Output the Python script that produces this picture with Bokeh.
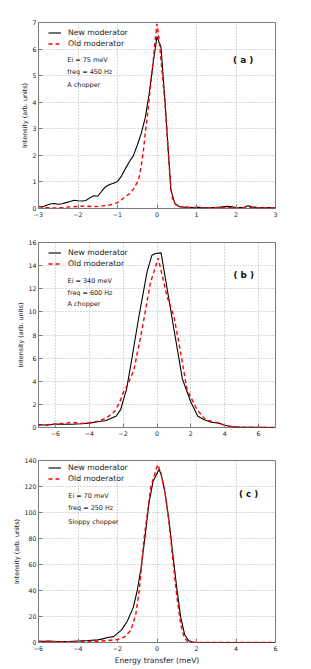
from bokeh.plotting import figure
from bokeh.models import Range1d, FixedTicker, Label
from bokeh.layouts import column
from bokeh.embed import file_html
from bokeh.resources import INLINE

# ---------------- data ----------------
# Panel (a): Ei = 75 meV
A_NEW_X = [-3.0, -2.9, -2.8, -2.7, -2.6, -2.5, -2.4, -2.3, -2.2, -2.1, -2.0, -1.9, -1.8, -1.7, -1.6, -1.5,
           -1.4, -1.3, -1.2, -1.1, -1.0, -0.9, -0.8, -0.7, -0.6, -0.5, -0.4, -0.3, -0.2, -0.1, 0.0, 0.1,
           0.2, 0.3, 0.35, 0.45, 0.55, 0.7, 0.9, 1.0, 1.2, 1.4, 1.6, 1.8, 1.9, 2.0, 2.2, 2.3, 2.4, 2.6, 2.8, 3.0]
A_NEW_Y = [0.08, 0.06, 0.12, 0.17, 0.19, 0.16, 0.18, 0.22, 0.26, 0.31, 0.29, 0.28, 0.30, 0.40, 0.48, 0.46,
           0.65, 0.82, 0.90, 0.95, 1.02, 1.22, 1.50, 1.76, 1.98, 2.38, 2.82, 3.40, 4.30, 5.45, 6.47, 6.08,
           4.10, 1.85, 0.70, 0.20, 0.08, 0.05, 0.04, 0.05, 0.03, 0.04, 0.05, 0.08, 0.06, 0.04, 0.04, 0.10,
           0.06, 0.03, 0.04, 0.03]
A_OLD_X = [-3.0, -2.8, -2.6, -2.4, -2.2, -2.0, -1.8, -1.6, -1.4, -1.2, -1.0, -0.9, -0.8, -0.7, -0.6, -0.5,
           -0.45, -0.4, -0.35, -0.3, -0.25, -0.2, -0.15, -0.1, -0.05, 0.0, 0.05, 0.1, 0.2, 0.3, 0.35, 0.4,
           0.5, 0.6, 0.8, 1.0, 1.5, 2.0, 2.5, 3.0]
A_OLD_Y = [0.07, 0.04, 0.02, 0.03, 0.06, 0.08, 0.09, 0.07, 0.09, 0.13, 0.22, 0.32, 0.45, 0.55, 0.72, 0.98,
           1.20, 1.60, 2.10, 2.80, 3.40, 4.10, 4.80, 5.50, 6.30, 6.95, 6.40, 5.60, 4.00, 1.80, 0.80, 0.30,
           0.10, 0.06, 0.04, 0.03, 0.03, 0.03, 0.03, 0.03]

# Panel (b): Ei = 340 meV
B_NEW_X = [-7.0, -6.5, -6.0, -5.5, -5.0, -4.5, -4.0, -3.5, -3.0, -2.7, -2.4, -2.15, -2.0, -1.8, -1.56,
           -1.07, -0.58, -0.3, -0.1, 0.24, 0.6, 1.0, 1.5, 2.0, 2.4, 2.75, 3.2, 3.6, 4.0, 4.5, 5.0, 6.0, 7.0]
B_NEW_Y = [0.26, 0.20, 0.30, 0.28, 0.28, 0.32, 0.38, 0.50, 0.60, 0.80, 1.00, 1.55, 2.30, 3.30, 5.30,
           9.60, 13.5, 14.9, 15.05, 15.1, 12.0, 8.50, 4.20, 2.20, 1.00, 0.70, 0.45, 0.40, 0.20, 0.05, 0.02,
           0.01, 0.0]
B_OLD_X = [-7.0, -6.5, -6.0, -5.5, -5.0, -4.5, -4.0, -3.5, -3.0, -2.5, -2.2, -2.0, -1.76, -1.36, -0.88,
           -0.39, 0.07, 0.6, 1.0, 1.37, 1.77, 2.36, 2.85, 3.3, 3.6, 4.0, 4.5, 5.0, 6.0, 7.0]
B_OLD_Y = [0.20, 0.25, 0.30, 0.35, 0.45, 0.35, 0.40, 0.55, 0.80, 1.40, 2.20, 3.00, 3.60, 5.00, 8.50,
           12.5, 14.65, 11.3, 9.60, 6.70, 3.30, 1.55, 0.70, 0.50, 0.40, 0.20, 0.05, 0.02, 0.01, 0.0]

# Panel (c): Ei = 70 meV, Sloppy chopper
C_NEW_X = [-6.0, -5.5, -5.0, -4.5, -4.0, -3.5, -3.0, -2.8, -2.5, -2.2, -2.0, -1.8, -1.5, -1.2, -1.0,
           -0.8, -0.6, -0.4, -0.2, 0.0, 0.1, 0.2, 0.4, 0.6, 0.8, 1.0, 1.2, 1.4, 1.6, 1.8, 2.0, 3.0, 4.0,
           5.0, 6.0]
C_NEW_Y = [0.5, 1.2, 0.8, 0.8, 1.2, 1.5, 2.0, 2.6, 3.8, 4.5, 7.0, 9.5, 16.5, 27.0, 40.0,
           58.0, 82.0, 108.0, 124.0, 130.0, 133.0, 130.0, 116.0, 95.0, 68.0, 42.0, 19.5, 6.0, 1.5, 0.3,
           0.0, 0.0, 0.0, 0.0, 0.0]
C_OLD_X = [-6.0, -5.5, -5.0, -4.5, -4.0, -3.5, -3.0, -2.5, -2.0, -1.65, -1.32, -1.07, -0.9, -0.64,
           -0.31, 0.0, 0.05, 0.2, 0.4, 0.6, 0.8, 1.0, 1.2, 1.37, 1.53, 1.8, 3.0, 6.0]
C_OLD_Y = [1.0, 0.8, 0.5, 0.6, 0.5, 0.8, 1.0, 1.5, 2.3, 4.3, 9.4, 22.0, 40.0, 82.0,
           120.0, 135.0, 136.8, 130.0, 116.0, 93.0, 64.0, 36.0, 14.0, 4.3, 1.0, 0.0, 0.0, 0.0]

A_XTICKS = [-3, -2, -1, 0, 1, 2, 3]
A_XLABELS = ["\u22123", "\u22122", "\u22121", "0", "1", "2", "3"]
A_YTICKS = [0, 1, 2, 3, 4, 5, 6, 7]
B_XTICKS = [-6, -4, -2, 0, 2, 4, 6]
B_XLABELS = ["\u22126", "\u22124", "\u22122", "0", "2", "4", "6"]
B_YTICKS = [0, 2, 4, 6, 8, 10, 12, 14, 16]
C_XTICKS = [-6, -4, -2, 0, 2, 4, 6]
C_XLABELS = ["\u22126", "\u22124", "\u22122", "0", "2", "4", "6"]
C_YTICKS = [0, 20, 40, 60, 80, 100, 120, 140]

SERIES_NAMES = ["New moderator", "Old moderator"]
YLABEL = "Intensity (arb. units)"
XLABEL = "Energy transfer (meV)"

PANELS = [
    dict(tag="( a )", notes=["Ei = 75 meV", "freq = 450 Hz", "A chopper"],
         xr=(-3, 3), yr=(0, 7), xt=A_XTICKS, xl=A_XLABELS, yt=A_YTICKS,
         new=(A_NEW_X, A_NEW_Y), old=(A_OLD_X, A_OLD_Y),
         note_x=-2.27, note_y=[5.6, 5.12, 4.63], tag_x=2.18, tag_y=5.57,
         h=223, bl=35, br=15, bt=22, bb=15, xlabel=False),
    dict(tag="( b )", notes=["Ei = 340 meV", "freq = 600 Hz", "A chopper"],
         xr=(-7, 7), yr=(0, 16), xt=B_XTICKS, xl=B_XLABELS, yt=B_YTICKS,
         new=(B_NEW_X, B_NEW_Y), old=(B_OLD_X, B_OLD_Y),
         note_x=-5.28, note_y=[12.7, 11.66, 10.7], tag_x=5.12, tag_y=13.2,
         h=219, bl=38, br=14, bt=19, bb=15, xlabel=False),
    dict(tag="( c )", notes=["Ei = 70 meV", "freq = 250 Hz", "Sloppy chopper"],
         xr=(-6, 6), yr=(0, 140), xt=C_XTICKS, xl=C_XLABELS, yt=C_YTICKS,
         new=(C_NEW_X, C_NEW_Y), old=(C_OLD_X, C_OLD_Y),
         note_x=-4.49, note_y=[112.6, 103.5, 92.9], tag_x=4.64, tag_y=114,
         h=225, bl=38, br=14, bt=18, bb=22, xlabel=True),
]

FONT = "DejaVu Sans"
FRAME_COLOR = "#7a7a7a"
TICK_FS = "6.3px"
LEG_PAD = 9
LEG_ITEM_H = 11


def make_panel(cfg):
    frame_h = cfg["h"] - cfg["bt"] - cfg["bb"]
    p = figure(width=290, height=cfg["h"], output_backend="svg", toolbar_location=None,
               x_range=Range1d(*cfg["xr"]), y_range=Range1d(*cfg["yr"]),
               min_border_left=cfg["bl"], min_border_right=cfg["br"],
               min_border_top=cfg["bt"], min_border_bottom=cfg["bb"])
    p.background_fill_color = "white"
    p.border_fill_color = "white"
    p.outline_line_color = FRAME_COLOR
    p.outline_line_width = 1

    p.line(cfg["new"][0], cfg["new"][1], line_color="black", line_width=1.1,
           legend_label=SERIES_NAMES[0])
    p.line(cfg["old"][0], cfg["old"][1], line_color="#ff0000", line_width=1.4,
           line_dash="4 3", legend_label=SERIES_NAMES[1])

    xa = p.xaxis[0]
    ya = p.yaxis[0]
    xa.ticker = FixedTicker(ticks=cfg["xt"])
    xa.major_label_overrides = {t: l for t, l in zip(cfg["xt"], cfg["xl"])}
    ya.ticker = FixedTicker(ticks=cfg["yt"])
    for ax in (xa, ya):
        ax.axis_line_color = None
        ax.major_tick_in = 4
        ax.major_tick_out = 0
        ax.major_tick_line_color = FRAME_COLOR
        ax.minor_tick_line_color = None
        ax.major_label_text_font = FONT
        ax.major_label_text_font_size = TICK_FS
        ax.major_label_text_color = "#222222"
        ax.major_label_standoff = 3
        ax.axis_label_text_font = FONT
        ax.axis_label_text_font_style = "normal"
        ax.axis_label_text_color = "#222222"
    ya.major_label_standoff = 2
    ya.axis_label = YLABEL
    ya.axis_label_text_font_size = "6.4px"
    ya.axis_label_standoff = 0
    if cfg["xlabel"]:
        xa.axis_label = XLABEL
        xa.axis_label_text_font_size = "7.6px"
        xa.axis_label_standoff = 2

    p.grid.grid_line_color = "#a0a0a0"
    p.grid.grid_line_dash = "1 2"
    p.grid.grid_line_width = 0.8
    p.xgrid.ticker = FixedTicker(ticks=cfg["xt"])
    p.ygrid.ticker = FixedTicker(ticks=cfg["yt"])

    lg = p.legend[0]
    # box's bottom-left corner relative to the frame, so that the first item sits ~10px below top
    leg_h = 2 * LEG_ITEM_H + 2 * LEG_PAD
    lg.location = (1, frame_h + LEG_PAD - 4.5 - leg_h)
    lg.margin = 0
    lg.padding = LEG_PAD
    lg.spacing = 0
    lg.glyph_width = 13
    lg.glyph_height = LEG_ITEM_H
    lg.label_height = LEG_ITEM_H
    lg.label_standoff = 7
    lg.label_text_font = FONT
    lg.label_text_font_size = "7.7px"
    lg.label_text_color = "#222222"
    lg.border_line_alpha = 0
    lg.background_fill_alpha = 0

    for txt, yy in zip(cfg["notes"], cfg["note_y"]):
        p.add_layout(Label(x=cfg["note_x"], y=yy, text=txt, text_font=FONT, text_font_size="6.45px",
                           text_color="#222222", text_baseline="middle", text_align="left"))
    p.add_layout(Label(x=cfg["tag_x"], y=cfg["tag_y"], text=cfg["tag"], text_font=FONT,
                       text_font_size="8.8px", text_font_style="bold", text_color="#111111",
                       text_baseline="middle", text_align="center"))
    return p


figs = [make_panel(c) for c in PANELS]
layout = column(*figs, spacing=0)

open("out.html", "w").write(file_html(layout, INLINE))
